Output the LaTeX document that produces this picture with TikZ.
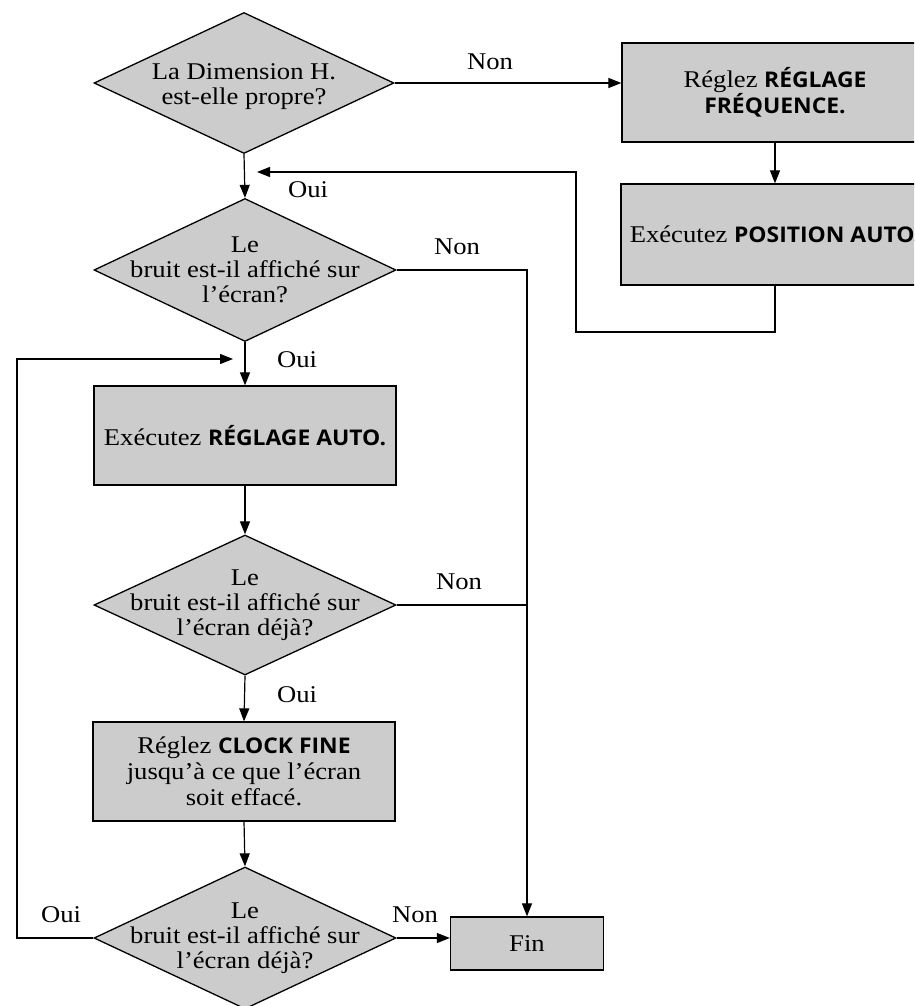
\documentclass[tikz,border=0pt]{standalone}
\usepackage{fontspec}
\setmainfont{Liberation Serif}[FakeStretch=1.11]
\setsansfont{Open Sans}[Scale=0.9, FakeStretch=1.06]
\usetikzlibrary{shapes.geometric,arrows.meta}
\definecolor{boxgray}{RGB}{204,204,204}
\newcommand{\kw}[1]{{\sffamily\bfseries #1}}
\tikzset{
  every node/.style={font=\fontsize{24}{25}\selectfont},
  dec/.style={shape=diamond, draw, line width=1.3pt, fill=boxgray, inner sep=0pt, minimum width=#1, minimum height=141pt},
  dec/.default=302pt,
  dtxt/.style={align=center, inner sep=0pt},
  proc/.style={shape=rectangle, draw, line width=1.3pt, fill=boxgray, align=center, inner sep=0pt, minimum width=#1},
  proc/.default=302pt,
  arr/.style={line width=1.2pt, -{Triangle[length=13pt,width=10pt]}},
  ln/.style={line width=1.2pt},
  lab/.style={inner sep=0pt}
}
\begin{document}
\begin{tikzpicture}[x=1pt,y=-1pt]
\useasboundingbox (0,0) rectangle (914,1006);
\begin{scope}
\clip (0,0) rectangle (914,1006);
% decisions
\node[dec=300pt, label={[dtxt,yshift=-4pt]center:{La Dimension H.\\est-elle propre?}}] (d1) at (244,83) {};
\node[dec, minimum height=143pt, label={[dtxt]center:{Le\\bruit est-il affiché sur\\l’écran?}}] (d2) at (245,270) {};
\node[dec, minimum height=140pt, label={[dtxt]center:{Le\\bruit est-il affiché sur\\l’écran déjà?}}] (d3) at (245,605) {};
\node[dec, minimum height=142pt, label={[dtxt]center:{Le\\bruit est-il affiché sur\\l’écran déjà?}}] (d4) at (245,938) {};
% processes
\node[proc=306pt, minimum height=99pt] (b1) at (775,92.5) {Réglez \kw{RÉGLAGE}\\\kw{FRÉQUENCE.}};
\node[proc=308pt, minimum height=101pt] (b2) at (775,234.5) {Exécutez \kw{POSITION AUTO.}};
\node[proc, minimum height=99pt] (b3) at (245,435.5) {Exécutez \kw{RÉGLAGE AUTO.}};
\node[proc, minimum height=99pt, font=\fontsize{24}{26}\selectfont] (b4) at (244,771.5) {Réglez \kw{CLOCK FINE}\\jusqu’à ce que l’écran\\soit effacé.};
\node[proc=153pt, minimum height=53pt] (fin) at (527,943.5) {Fin};
% helper coordinates
\coordinate (r1) at (576,332);
\coordinate (t1) at (257,172);
\coordinate (lc) at (17,359);
\coordinate (t2) at (233,359);
% connectors
\draw[arr] (d1.east) -- (d1.east -| b1.west);
\draw[arr] (b1.south) -- (b2.north);
\draw[arr] (b2.south) |- (r1) |- (t1);
\draw[arr] (d1.south) -- (d2.north);
\draw[arr] (d2.east) -| (fin.north);
\draw[ln] (d3.east) -- (d3.east -| fin.north);
\draw[arr] (d2.south) -- (b3.north);
\draw[arr] (b3.south) -- (d3.north);
\draw[arr] (d3.south) -- (b4.north);
\draw[arr] (b4.south) -- (d4.north);
\draw[arr] (d4.east) -- (d4.east -| fin.west);
\draw[arr] (d4.west) -| (lc) -- (t2);
% labels
\node[lab] (n1) at (490,62) {Non};
\node[lab] (o1) at (308,190) {Oui};
\node[lab] (n2) at (457,247) {Non};
\node[lab] (o2) at (297,360) {Oui};
\node[lab] (n3) at (459,582) {Non};
\node[lab] (o3) at (297,695) {Oui};
\node[lab] (o4) at (61,915) {Oui};
\node[lab] (n4) at (415,915) {Non};
\end{scope}
\end{tikzpicture}
\end{document}
